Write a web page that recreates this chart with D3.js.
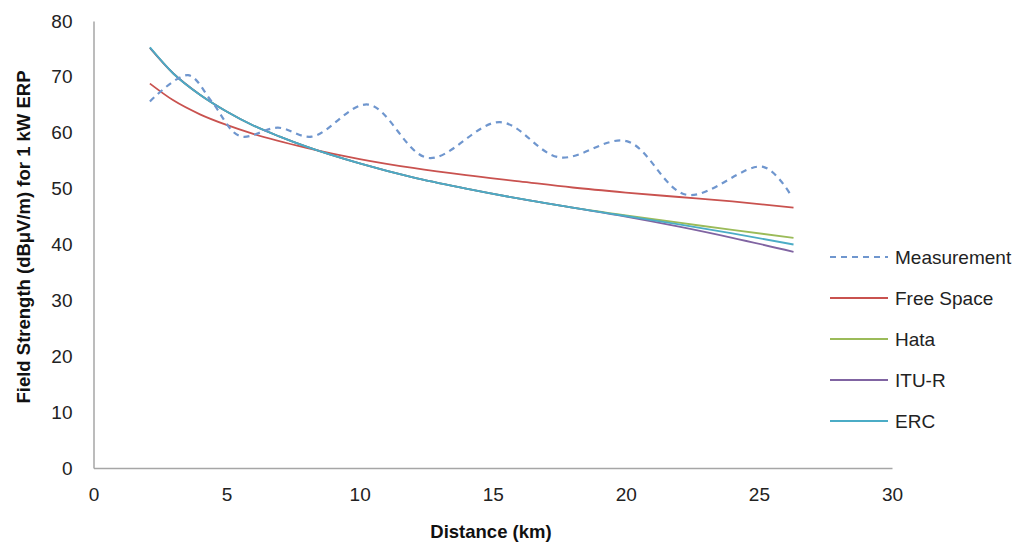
<!DOCTYPE html>
<html><head><meta charset="utf-8">
<script src="https://cdn.jsdelivr.net/npm/d3@7/dist/d3.min.js"></script>
<style>body{margin:0;background:#fff;}svg{display:block;font-family:"Liberation Sans",Arial,sans-serif;}</style>
</head><body><svg id="c" width="1025" height="544"></svg>
<script>
const xTicks = [0, 5, 10, 15, 20, 25, 30];
const yTicks = [0, 10, 20, 30, 40, 50, 60, 70, 80];
const seriesNames = ["Measurement", "Free Space", "Hata", "ITU-R", "ERC"];
const seriesColors = ["#6F96CE", "#C9524F", "#9BBB59", "#8064A2", "#4BACC6"];

const measurement = [[2.12,65.6],[3.55,70.3],[4.44,65.6],[5.5,59.4],[6.93,60.9],[8.2,59.3],[10.32,65.05],[12.57,55.5],[15.27,61.9],[17.5,55.6],[20.03,58.5],[22.28,48.9],[25.16,53.9],[26.23,48.6]];
const freeSpace = [[2.12,68.8],[3,65.8],[4,63.3],[5,61.4],[6,59.8],[8,57.3],[10,55.3],[12,53.7],[14,52.4],[16,51.3],[18,50.2],[20,49.3],[22,48.5],[24,47.7],[26.3,46.6]];
const hata = [[2.12,75.2],[3,70.6],[4,66.8],[5,63.8],[6,61.3],[7,59.3],[8,57.5],[10,54.5],[12,52.0],[14,50.0],[16,48.2],[18,46.6],[20,45.2],[22,43.9],[24,42.6],[26.3,41.2]];
const ituR = [[2.12,75.2],[3,70.6],[4,66.8],[5,63.8],[6,61.3],[7,59.3],[8,57.5],[10,54.5],[12,52.0],[14,50.0],[16,48.2],[18,46.6],[20,45.0],[22,43.2],[24,41.2],[26.3,38.7]];
const erc = [[2.12,75.3],[3,70.6],[4,66.8],[5,63.8],[6,61.3],[7,59.3],[8,57.5],[10,54.5],[12,52.0],[14,50.0],[16,48.2],[18,46.6],[20,45.1],[22,43.6],[24,42.0],[26.3,40.0]];

const svg = d3.select("#c");
const x = d3.scaleLinear().domain([0, 30]).range([93.5, 892]);
const y = d3.scaleLinear().domain([0, 80]).range([468, 21]);

// axes
const xAxis = svg.append("g").attr("transform", `translate(0,${y(0)})`)
  .call(d3.axisBottom(x).tickValues(xTicks).tickSize(0).tickPadding(20));
const yAxis = svg.append("g").attr("transform", `translate(${x(0)},0)`)
  .call(d3.axisLeft(y).tickValues(yTicks).tickSize(0).tickPadding(21));
[xAxis, yAxis].forEach(a => {
  a.select(".domain").attr("stroke", "#A6A6A6").attr("stroke-width", 1.5);
  a.selectAll("text").attr("font-size", 19).attr("fill", "#222").attr("font-family", "Liberation Sans, Arial, sans-serif");
});

const line = d3.line().x(d => x(d[0])).y(d => y(d[1]));
const smooth = d3.line().x(d => x(d[0])).y(d => y(d[1])).curve(d3.curveCatmullRom.alpha(0.5));
const model = d3.line().x(d => x(d[0])).y(d => y(d[1])).curve(d3.curveMonotoneX);

const data = [measurement, freeSpace, hata, ituR, erc];
const order = [1, 2, 3, 4, 0];
order.forEach(i => {
  svg.append("path").datum(data[i])
    .attr("d", i === 0 ? smooth : model)
    .attr("fill", "none")
    .attr("stroke", seriesColors[i])
    .attr("stroke-width", i === 0 ? 2.2 : 1.8)
    .attr("stroke-dasharray", i === 0 ? "6,5" : null);
});

// legend
const lg = svg.append("g");
seriesNames.forEach((n, i) => {
  const yy = 257 + i * 41;
  lg.append("line").attr("x1", 830).attr("x2", 888).attr("y1", yy).attr("y2", yy)
    .attr("stroke", seriesColors[i]).attr("stroke-width", i === 0 ? 2 : 2)
    .attr("stroke-dasharray", i === 0 ? "6,5" : null);
  lg.append("text").attr("x", 895).attr("y", yy).attr("dy", "0.35em")
    .attr("font-size", 19).attr("fill", "#222").text(n);
});

// titles
svg.append("text").attr("x", 491).attr("y", 538).attr("text-anchor", "middle")
  .attr("font-size", 18.5).attr("font-weight", "bold").attr("fill", "#111").text("Distance (km)");
svg.append("text").attr("transform", "translate(30,237) rotate(-90)").attr("text-anchor", "middle")
  .attr("font-size", 18.5).attr("font-weight", "bold").attr("fill", "#111").text("Field Strength (dBμV/m) for 1 kW ERP");
</script></body></html>
